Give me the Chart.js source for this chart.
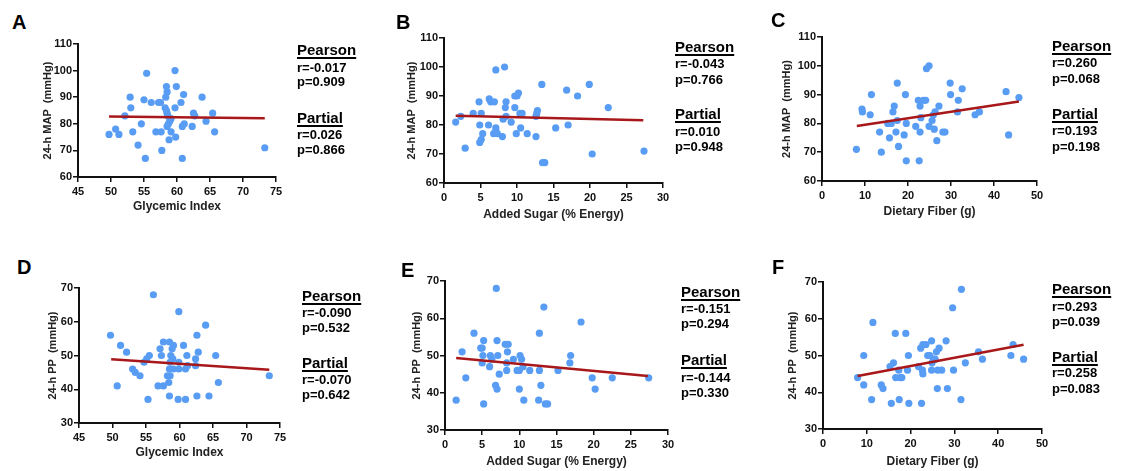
<!DOCTYPE html>
<html lang="en">
<head>
<meta charset="UTF-8">
<title>Diet quality vs 24-h blood pressure</title>
<script src="https://cdn.jsdelivr.net/npm/chart.js"></script>
<style>
  body {
    margin: 0;
    background: #fff;
    width: 1122px;
    height: 471px;
    position: relative;
    overflow: hidden;
    font-family: Arial, 'Liberation Sans', sans-serif;
  }
  canvas { position: absolute; }
  .lbl {
    position: absolute;
    font-weight: bold;
    color: #000;
    white-space: nowrap;
  }
  .u {
    text-decoration: underline;
    text-decoration-thickness: 2px;
    text-underline-offset: 2px;
  }
</style>
</head>
<body>
<script>
  // ---- data ----
  const ticksGI = [45, 50, 55, 60, 65, 70, 75];
  const ticksSugar = [0, 5, 10, 15, 20, 25, 30];
  const ticksFiber = [0, 10, 20, 30, 40, 50];
  const ticksMAP = [60, 70, 80, 90, 100, 110];
  const ticksPP = [30, 40, 50, 60, 70];

  // A: glycemic index vs 24-h MAP
  const giA = [49.7,50.7,51.2,52.1,52.9,53.0,53.3,54.1,54.6,55.0,55.4,55.2,56.1,56.8,57.2,57.5,57.7,57.6,58.4,58.5,58.3,58.2,58.4,58.5,58.6,58.5,58.7,58.9,59.1,58.8,59.1,59.7,59.9,59.7,59.8,60.6,61.0,60.8,61.1,60.8,62.3,62.5,62.7,63.8,64.4,65.4,65.7,73.3];
  const mapA = [76,78,76,83,90,86,77,72,80,89,99,67,88,77,88,88,70,77,94,92,90,86,85,84,83,79,80,81,82,74,77,100,94,86,75,88,91,79,80,67,79,84,83,90,81,84,77,71];
  const fitAx = [49.7, 73.3], fitAy = [82.7, 82.1];

  // B: added sugar vs 24-h MAP
  const sugarB = [1.6,2.3,2.9,4.0,4.8,5.1,4.9,5.1,5.3,4.9,6.1,6.2,6.4,6.9,7.1,7.1,7.1,6.8,7.3,8.3,8.1,8.0,8.5,8.4,8.5,9.2,9.7,9.7,10.0,10.2,10.4,10.7,9.9,10.5,11.4,12.6,12.6,12.8,12.7,13.4,13.5,13.8,15.3,16.8,17.0,18.3,19.9,20.3,22.5,27.4];
  const mapB = [81,83,72,84,88,84,80,75,77,74,80,89,88,88,99,79,78,77,77,100,82,76,88,86,83,81,86,90,90,91,84,84,77,79,77,76,83,85,84,94,67,67,79,92,80,90,94,70,86,71];
  const fitBx = [1.6, 27.3], fitBy = [83.2, 81.6];

  // C: dietary fiber vs 24-h MAP
  const fiberC = [8.0,9.3,9.4,11.5,11.2,13.4,13.8,15.3,15.7,16.1,16.5,16.8,17.2,17.5,17.5,17.8,19.1,19.4,19.6,19.6,21.8,22.4,22.6,22.8,23.0,22.8,23.6,24.1,24.3,24.9,24.9,25.6,25.9,26.3,26.1,26.7,27.2,28.1,28.6,29.8,29.9,31.7,31.5,32.6,35.6,36.6,42.8,43.4,45.8];
  const mapC = [71,85,84,90,83,77,70,80,75,80,84,86,77,81,94,72,76,90,80,67,79,88,67,86,82,77,88,88,99,100,79,81,83,84,78,74,86,77,77,94,90,88,84,92,83,84,91,76,89];
  const fitCx = [8.1, 45.8], fitCy = [79.1, 87.6];

  // D: glycemic index vs 24-h PP
  const giD = [49.7,51.2,50.7,52.1,53.0,53.4,54.1,54.7,55.1,55.5,55.3,56.1,57.1,57.3,57.6,56.8,57.6,58.5,58.9,59.1,58.7,59.0,58.6,58.5,59.1,58.2,58.6,58.4,58.5,59.9,59.9,59.9,59.8,60.6,60.9,61.1,61.2,60.9,62.4,62.4,62.6,62.8,62.6,63.9,64.4,65.4,65.8,73.4];
  const ppD = [56,53,41,51,46,45,44,48,49,50,37,68,52,50,54,41,41,54,52,53,50,49,48,46,46,44,44,42,38,63,48,46,37,53,46,50,47,37,49,47,56,51,38,59,38,50,42,44];
  const fitDx = [49.8, 73.4], fitDy = [48.9, 45.8];

  // E: added sugar vs 24-h PP
  const sugarE = [1.5,2.3,2.8,3.9,4.8,5.0,5.2,5.1,5.0,5.2,6.1,6.3,6.0,6.9,7.0,7.1,6.8,7.0,7.3,8.1,8.5,8.4,8.3,8.3,9.2,9.7,10.0,10.1,10.3,10.0,10.5,10.6,11.4,12.7,12.7,12.9,12.6,13.3,13.5,13.8,15.2,16.8,16.9,18.3,19.8,20.2,22.5,27.4];
  const ppE = [38,51,44,56,52,52,54,50,48,37,50,49,47,68,54,50,42,41,45,53,53,51,48,46,49,46,41,50,49,46,47,38,46,56,46,42,38,63,37,37,46,48,50,59,44,41,44,44];
  const fitEx = [1.5, 27.3], fitEy = [49.3, 44.5];

  // F: dietary fiber vs 24-h PP
  const fiberF = [7.9,9.3,9.3,11.1,11.4,13.3,13.7,15.3,15.6,16.1,16.5,16.6,17.3,17.6,17.4,18.0,18.9,19.5,19.3,19.6,21.8,22.3,22.8,23.5,22.7,22.8,22.5,23.9,24.4,24.8,24.9,25.2,25.6,24.8,25.9,26.5,26.2,27.1,26.1,28.1,28.4,29.6,29.8,31.6,31.5,32.5,35.5,36.4,42.9,43.4,45.8];
  const ppF = [44,42,50,38,59,42,41,47,37,48,56,44,46,44,38,44,56,50,46,37,47,52,53,53,46,45,37,50,50,54,48,49,49,46,51,52,46,46,41,54,41,63,46,68,38,48,51,49,50,53,49];
  const fitFx = [7.9, 45.8], fitFy = [44.4, 52.9];

  const statsA = ['r=-0.017', 'p=0.909', 'r=0.026', 'p=0.866'];
  const statsB = ['r=-0.043', 'p=0.766', 'r=0.010', 'p=0.948'];
  const statsC = ['r=0.260', 'p=0.068', 'r=0.193', 'p=0.198'];
  const statsD = ['r=-0.090', 'p=0.532', 'r=-0.070', 'p=0.642'];
  const statsE = ['r=-0.151', 'p=0.294', 'r=-0.144', 'p=0.330'];
  const statsF = ['r=0.293', 'p=0.039', 'r=0.258', 'p=0.083'];

  // ---- layout (pixel boxes of each plot area) ----
  const panels = [
    { letter: 'A', letterPos: [13, 15], box: [78, 44, 276, 177], yOff: 30, xOff: 30,
      x: giA, y: mapA, fx: fitAx, fy: fitAy, xt: ticksGI, yt: ticksMAP,
      xTitle: 'Glycemic Index', yTitle: '24-h MAP  (mmHg)', stats: statsA,
      statX: 297, statY: [49, 67, 81, 117, 134, 149] },
    { letter: 'B', letterPos: [397, 15], box: [444, 38, 663, 183], yOff: 32, xOff: 32,
      x: sugarB, y: mapB, fx: fitBx, fy: fitBy, xt: ticksSugar, yt: ticksMAP,
      xTitle: 'Added Sugar (% Energy)', yTitle: '24-h MAP  (mmHg)', stats: statsB,
      statX: 675, statY: [46, 63, 79, 113, 131, 146] },
    { letter: 'C', letterPos: [772, 13], box: [822, 37, 1037, 181], yOff: 35, xOff: 31,
      x: fiberC, y: mapC, fx: fitCx, fy: fitCy, xt: ticksFiber, yt: ticksMAP,
      xTitle: 'Dietary Fiber (g)', yTitle: '24-h MAP  (mmHg)', stats: statsC,
      statX: 1052, statY: [45, 62, 78, 113, 130, 146] },
    { letter: 'D', letterPos: [18, 260], box: [79, 288, 280, 423], yOff: 26, xOff: 30,
      x: giD, y: ppD, fx: fitDx, fy: fitDy, xt: ticksGI, yt: ticksPP,
      xTitle: 'Glycemic Index', yTitle: '24-h PP  (mmHg)', stats: statsD,
      statX: 302, statY: [295, 312, 327, 362, 379, 394] },
    { letter: 'E', letterPos: [402, 263], box: [445, 281, 668, 430], yOff: 28, xOff: 32,
      x: sugarE, y: ppE, fx: fitEx, fy: fitEy, xt: ticksSugar, yt: ticksPP,
      xTitle: 'Added Sugar (% Energy)', yTitle: '24-h PP  (mmHg)', stats: statsE,
      statX: 681, statY: [291, 308, 323, 359, 377, 392] },
    { letter: 'F', letterPos: [773, 260], box: [823, 282, 1042, 429], yOff: 30, xOff: 33,
      x: fiberF, y: ppF, fx: fitFx, fy: fitFy, xt: ticksFiber, yt: ticksPP,
      xTitle: 'Dietary Fiber (g)', yTitle: '24-h PP  (mmHg)', stats: statsF,
      statX: 1052, statY: [288, 306, 321, 356, 372, 388] }
  ];

  const FONT = "Arial, 'Liberation Sans', sans-serif";

  function addText(text, left, centerY, size, cls) {
    const d = document.createElement('div');
    d.className = 'lbl' + (cls ? ' ' + cls : '');
    d.textContent = text;
    d.style.left = left + 'px';
    d.style.top = (centerY - size / 2) + 'px';
    d.style.fontSize = size + 'px';
    d.style.lineHeight = size + 'px';
    document.body.appendChild(d);
  }

  function axisOpts(ticks, titleText, titleSize) {
    return {
      type: 'linear',
      min: ticks[0],
      max: ticks[ticks.length - 1],
      ticks: {
        stepSize: ticks[1] - ticks[0],
        color: '#111',
        font: { family: FONT, size: 11, weight: 'bold' }
      },
      grid: { drawOnChartArea: false, tickLength: 5, color: '#111', lineWidth: 1.5 },
      border: { color: '#111', width: 2 },
      title: {
        display: true,
        text: titleText,
        color: '#222',
        padding: 0,
        font: { family: FONT, size: titleSize, weight: 'bold' }
      }
    };
  }

  panels.forEach(p => {
    const W = Math.round(p.yOff + 6.6);
    const H = Math.round(p.xOff + 7.2);
    const padT = 12, padR = 22;
    const cw = W + (p.box[2] - p.box[0]) + padR;
    const ch = padT + (p.box[3] - p.box[1]) + H;

    const cv = document.createElement('canvas');
    cv.width = cw; cv.height = ch;
    cv.style.width = cw + 'px'; cv.style.height = ch + 'px';
    cv.style.left = (p.box[0] - W) + 'px';
    cv.style.top = (p.box[1] - padT) + 'px';
    document.body.appendChild(cv);

    const xs = axisOpts(p.xt, p.xTitle, 12);
    xs.ticks.padding = 3;
    xs.afterFit = s => { s.height = H; };
    const ys = axisOpts(p.yt, p.yTitle, 11);
    ys.ticks.padding = 1;
    ys.afterFit = s => { s.width = W; };

    new Chart(cv, {
      type: 'scatter',
      data: {
        datasets: [
          {
            data: p.fx.map((v, i) => ({ x: v, y: p.fy[i] })),
            showLine: true,
            borderColor: '#a8181a',
            borderWidth: 2.5,
            pointRadius: 0,
            order: 0
          },
          {
            data: p.x.map((v, i) => ({ x: v, y: p.y[i] })),
            backgroundColor: '#589df3',
            borderWidth: 0,
            pointRadius: 3.6,
            order: 1
          }
        ]
      },
      options: {
        responsive: false,
        animation: false,
        devicePixelRatio: 1,
        layout: { padding: { top: padT, right: padR, left: 0, bottom: 0 } },
        plugins: { legend: { display: false }, tooltip: { enabled: false } },
        scales: { x: xs, y: ys }
      }
    });

    // panel letter
    const L = document.createElement('div');
    L.className = 'lbl';
    L.textContent = p.letter;
    L.style.fontSize = '20px';
    L.style.lineHeight = '20px';
    L.style.left = (p.letterPos[0] - 1) + 'px';
    L.style.top = (p.letterPos[1] - 2.6) + 'px';
    document.body.appendChild(L);

    // Pearson / Partial statistics
    addText('Pearson', p.statX, p.statY[0], 15, 'u');
    addText(p.stats[0], p.statX, p.statY[1], 13);
    addText(p.stats[1], p.statX, p.statY[2], 13);
    addText('Partial', p.statX, p.statY[3], 15, 'u');
    addText(p.stats[2], p.statX, p.statY[4], 13);
    addText(p.stats[3], p.statX, p.statY[5], 13);
  });
</script>
</body>
</html>
